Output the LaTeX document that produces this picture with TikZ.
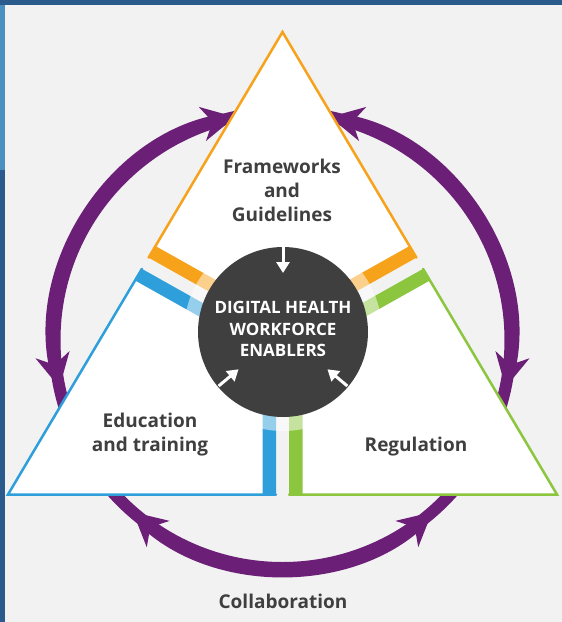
\documentclass[tikz,border=0pt]{standalone}
\usepackage{fontspec}
\setmainfont{Open Sans}
\usetikzlibrary{arrows.meta,calc}
\definecolor{bg}{HTML}{F2F2F2}
\definecolor{frameA}{HTML}{2B5A8C}
\definecolor{frameB}{HTML}{4A8FC0}
\definecolor{purp}{HTML}{6B1F76}
\definecolor{orng}{HTML}{F7A21B}
\definecolor{blu}{HTML}{2E9FDA}
\definecolor{grn}{HTML}{8CC63F}
\definecolor{hubc}{HTML}{3F3F3F}
\definecolor{txt}{HTML}{3F3F3F}
\tikzset{
  ring/.style={draw=purp, line width=12pt},
  ringtip/.style={draw=purp, line width=12pt, {Stealth[length=33pt,width=34pt,inset=10pt]}-{Stealth[length=33pt,width=34pt,inset=10pt]}},
  sideline/.style={line width=2.5pt, line join=miter, line cap=round},
  barline/.style={line width=27pt, line join=miter},
  warrow/.style={draw=white, line width=3pt, -{Triangle[length=11pt,width=13pt]}},
  lbl/.style={text=txt, font=\fontsize{19}{24}\selectfont\bfseries, align=center, inner sep=0pt},
  ctr/.style={text=white, font=\fontsize{17}{21.5}\selectfont\bfseries, align=center, inner sep=0pt},
}
\begin{document}
\begin{tikzpicture}[x=1pt,y=1pt]
\useasboundingbox (0,0) rectangle (562,-622);
% background and frame
\fill[bg] (0,0) rectangle (562,-622);
\fill[frameA] (0,0) rectangle (562,-5);
\fill[frameB] (0,-5) rectangle (5,-170);
\fill[frameA] (0,-170) rectangle (5,-622);
% ring
\coordinate (O) at (282.5,-340);
\draw[ring] (O) circle[radius=228];
\draw[ringtip, shift={(O)}] (102:228) arc[start angle=102, end angle=192, radius=228];
\draw[ringtip, shift={(O)}] (78:228) arc[start angle=78, end angle=-12, radius=228];
\draw[ringtip, shift={(O)}] (229:228) arc[start angle=229, end angle=311, radius=228];
% top kite
\coordinate (A) at (282.5,-32);
\coordinate (P1) at (148.57,-257.65);
\coordinate (T0) at (282.5,-332.87);
\coordinate (P2) at (416.43,-257.65);
\fill[white] (A)--(P1)--(T0)--(P2)--cycle;
\begin{scope}
  \clip (A)--(P1)--(T0)--(P2)--cycle;
  \draw[barline, draw=orng] (P1)--(T0)--(P2);
\end{scope}
\draw[sideline, draw=orng] (P1)--(A)--(P2);
% left kite
\coordinate (B) at (8,-494.5);
\coordinate (L1) at (276,-494.5);
\coordinate (L0) at (276,-344.14);
\coordinate (L2) at (141.94,-268.84);
\fill[white] (B)--(L1)--(L0)--(L2)--cycle;
\begin{scope}
  \clip (B)--(L1)--(L0)--(L2)--cycle;
  \draw[barline, draw=blu] (L1)--(L0)--(L2);
\end{scope}
\draw[sideline, draw=blu] (L2)--(B)--(L1);
% right kite
\coordinate (C) at (557,-494.5);
\coordinate (R1) at (289,-494.5);
\coordinate (R0) at (289,-344.14);
\coordinate (R2) at (423.06,-268.84);
\fill[white] (C)--(R1)--(R0)--(R2)--cycle;
\begin{scope}
  \clip (C)--(R1)--(R0)--(R2)--cycle;
  \draw[barline, draw=grn] (R1)--(R0)--(R2);
\end{scope}
\draw[sideline, draw=grn] (R2)--(C)--(R1);
% light halo and hub
\fill[white, opacity=0.5] (283,-332) circle[radius=99];
\node[circle, fill=hubc, minimum size=170pt, inner sep=0pt] (hub) at (283,-332) {};
\draw[warrow] ($(hub.center)+(90:85)$) -- ($(hub.center)+(90:59)$);
\draw[warrow] ($(hub.center)+(220:84)$) -- ($(hub.center)+(220:58)$);
\draw[warrow] ($(hub.center)+(320:84)$) -- ($(hub.center)+(320:58)$);
\node[ctr] (hubtext) at (283,-329) {DIGITAL HEALTH\\WORKFORCE\\ENABLERS};
% labels
\node[lbl] (fw) at (282,-190) {Frameworks\\and\\Guidelines};
\node[lbl] (edu) at (150,-435) {Education\\and training};
\node[lbl] (reg) at (416,-447) {Regulation};
\node[lbl] (col) at (283,-601) {Collaboration};
\end{tikzpicture}
\end{document}
